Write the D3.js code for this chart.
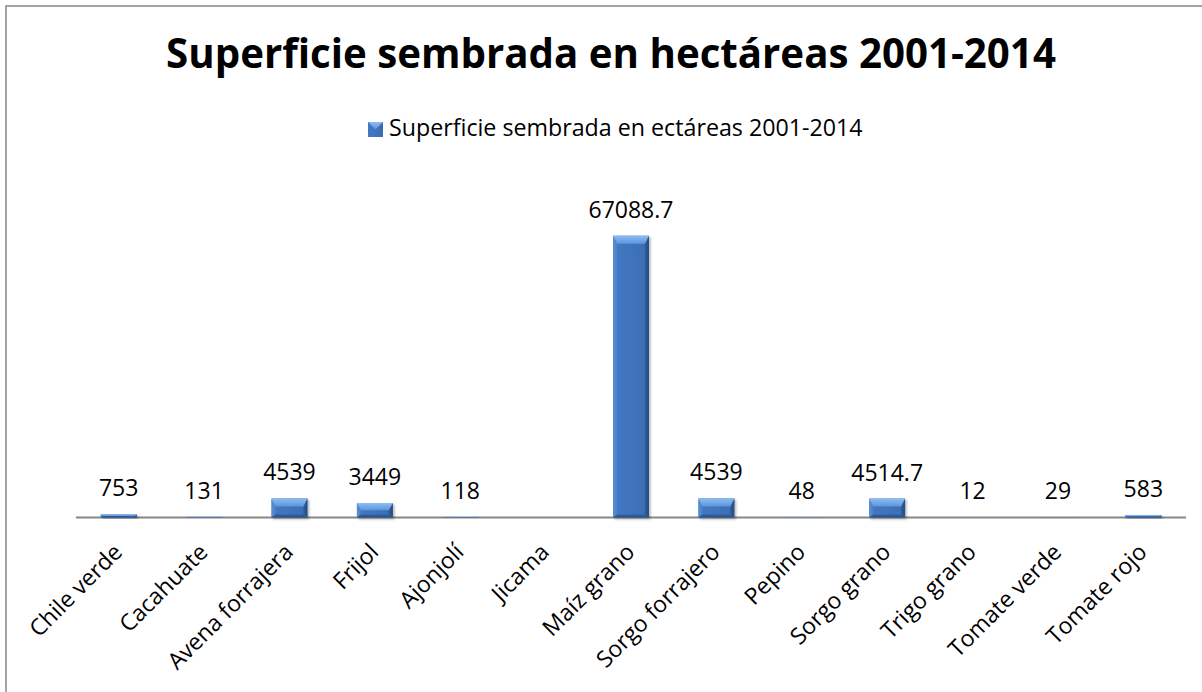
<!DOCTYPE html>
<html>
<head>
<meta charset="utf-8">
<script src="https://cdn.jsdelivr.net/npm/d3@7"></script>
<style>
  html, body { margin: 0; padding: 0; background: #fff; }
  svg { display: block; }
</style>
</head>
<body>
<svg id="chart" width="1202" height="692"></svg>
<script>
const categories = ["Chile verde", "Cacahuate", "Avena forrajera", "Frijol", "Ajonjolí", "Jicama",
  "Maíz grano", "Sorgo forrajero", "Pepino", "Sorgo grano", "Trigo grano", "Tomate verde", "Tomate rojo"];
const values = [753, 131, 4539, 3449, 118, null, 67088.7, 4539, 48, 4514.7, 12, 29, 583];
const valueLabels = ["753", "131", "4539", "3449", "118", "", "67088.7", "4539", "48", "4514.7", "12", "29", "583"];
const titleText = "Superficie sembrada en hectáreas 2001-2014";
const seriesName = "Superficie sembrada en ectáreas 2001-2014";
const yMax = 80000;

const FONT = "'Open Sans', 'Noto Sans', sans-serif";
const svg = d3.select("#chart");

// defs: gradients
const defs = svg.append("defs");
function lg(id, x2, y2, stops) {
  const g = defs.append("linearGradient").attr("id", id)
    .attr("x1", 0).attr("y1", 0).attr("x2", x2).attr("y2", y2);
  stops.forEach(s => g.append("stop").attr("offset", s[0]).attr("stop-color", s[1]));
}
lg("body", 1, 0, [[0, "#4379c2"], [0.5, "#3f74bd"], [1, "#3a6cb0"]]);
lg("top", 0, 1, [[0, "#8cbcf2"], [1, "#5d95dc"]]);
lg("left", 1, 0, [[0, "#5b8fd4"], [1, "#4a80c8"]]);
lg("right", 1, 0, [[0, "#2f5d9a"], [1, "#254c80"]]);
lg("bottom", 0, 1, [[0, "#335f9c"], [1, "#2a5185"]]);
const f = defs.append("filter").attr("id", "shadow").attr("x", "-20%").attr("y", "-20%").attr("width", "150%").attr("height", "150%");
f.append("feDropShadow").attr("dx", 1.5).attr("dy", 1.5).attr("stdDeviation", 1.2)
  .attr("flood-color", "#000").attr("flood-opacity", 0.3);

// frame
svg.append("rect").attr("x", 6).attr("y", 6).attr("width", 1250).attr("height", 720)
  .attr("fill", "#fff").attr("stroke", "#868686").attr("stroke-width", 1.5);

const x = d3.scaleBand().domain(categories).range([76, 1186]).paddingInner(0.58).paddingOuter(0.29);
const y = d3.scaleLinear().domain([0, yMax]).range([517.5, 181.5]);

// title
function fitText(sel, targetW, base) {
  sel.attr("font-size", base);
  const w = sel.node().getComputedTextLength();
  sel.attr("font-size", base * targetW / w);
}
const title = svg.append("text").attr("x", 611).attr("y", 68).attr("text-anchor", "middle")
  .attr("font-family", FONT).attr("font-weight", "bold").attr("fill", "#000").text(titleText);
fitText(title, 890, 40);

// legend
svg.append("rect").attr("x", 368).attr("y", 122).attr("width", 15).attr("height", 15).attr("fill", "url(#body)");
svg.append("polygon").attr("points", "368,122 383,122 375.5,129.5").attr("fill", "url(#top)");
const legT = svg.append("text").attr("x", 389).attr("y", 135.5)
  .attr("font-family", FONT).attr("fill", "#000").text(seriesName);
fitText(legT, 474, 20);

// axis
const axisG = svg.append("g").attr("transform", `translate(0,${y(0)})`)
  .call(d3.axisBottom(x).tickSize(0).tickPadding(0));
axisG.select(".domain").attr("stroke", "#868686").attr("stroke-width", 2).attr("d", "M76,0H1186");
axisG.selectAll(".tick text").remove();
axisG.selectAll(".tick").append("text")
  .attr("text-anchor", "end")
  .attr("font-family", FONT).attr("font-size", 23).attr("fill", "#000")
  .attr("transform", "translate(5,36) rotate(-45)")
  .text(d => d);

// bars
const data = categories.map((c, i) => ({c, v: values[i], lab: valueLabels[i]}));
const bw = x.bandwidth();
const bars = svg.append("g").selectAll("g").data(data.filter(d => d.v != null)).join("g")
  .attr("filter", "url(#shadow)");
bars.each(function(d) {
  const g = d3.select(this);
  const x0 = x(d.c), x1 = x0 + bw, y0 = y(d.v), y1 = y(0);
  const h = y1 - y0;
  g.append("rect").attr("x", x0).attr("y", y0).attr("width", bw).attr("height", h).attr("fill", "url(#body)");
  const bt = Math.min(8, h / 2), bs = Math.min(4, h / 2), bb = Math.min(3, h / 2);
  const pts = a => a.map(p => p.join(",")).join(" ");
  g.append("polygon").attr("fill", "url(#left)")
    .attr("points", pts([[x0, y0], [x0 + bs, y0 + bt], [x0 + bs, y1 - bb], [x0, y1]]));
  g.append("polygon").attr("fill", "url(#right)")
    .attr("points", pts([[x1, y0], [x1 - bs, y0 + bt], [x1 - bs, y1 - bb], [x1, y1]]));
  g.append("polygon").attr("fill", "url(#bottom)")
    .attr("points", pts([[x0, y1], [x0 + bs, y1 - bb], [x1 - bs, y1 - bb], [x1, y1]]));
  g.append("polygon").attr("fill", "url(#top)")
    .attr("points", pts([[x0, y0], [x1, y0], [x1 - bs, y0 + bt], [x0 + bs, y0 + bt]]));
});

// value labels
svg.append("g").selectAll("text").data(data.filter(d => d.v != null)).join("text")
  .attr("x", d => x(d.c) + bw / 2)
  .attr("y", d => y(d.v) - 18)
  .attr("text-anchor", "middle")
  .attr("font-family", FONT).attr("font-size", 23).attr("fill", "#000")
  .text(d => d.lab);
</script>
</body>
</html>
